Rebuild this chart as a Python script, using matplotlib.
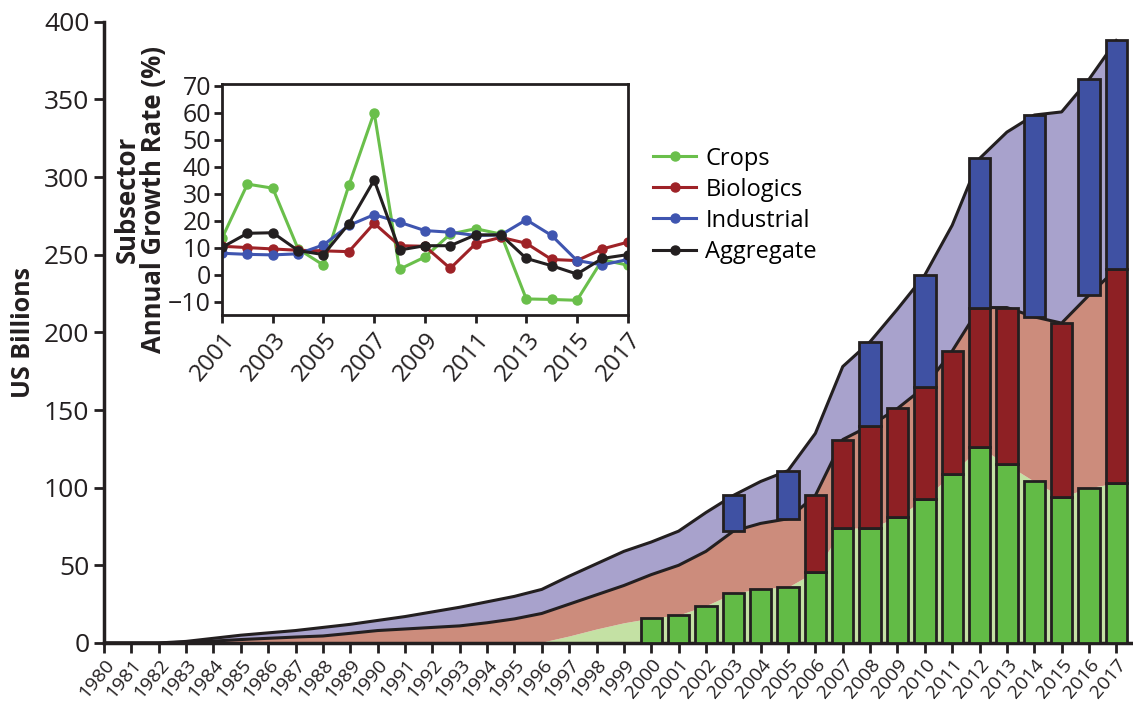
import matplotlib.pyplot as plt
import numpy as np

plt.rcParams['font.family'] = ['Open Sans', 'DejaVu Sans']

# main chart: subsector revenue, US billions
years = list(range(1980, 2018))
crops = [0, 0, 0, 0, 0, 0, 0, 0, 0, 0,
         0, 0, 0, 0, 0, 0, 0.5, 4.5, 9, 13,
         16, 18, 24, 32, 35, 36, 46, 74, 74, 81,
         93, 109, 126, 115, 104, 94, 100, 103]
biologics = [0, 0, 0, 0.5, 1.2, 2.2, 3, 3.8, 4.5, 6.2,
             8, 9, 10, 11, 13, 15.5, 18.5, 20.5, 22, 24,
             28, 32, 35, 40, 42, 44, 49, 57, 66, 70,
             72, 79, 90, 101, 106, 112, 124, 138]
industrial = [0, 0, 0, 0.5, 1.8, 2.8, 3.5, 4.2, 5.5, 5.8,
              6.5, 8, 10, 12, 13.5, 14.5, 15.5, 18, 20, 22,
              21, 22, 25, 23, 27, 31, 40, 47, 54, 64,
              72, 81, 96, 113, 130, 136, 139, 147]

# years that have a bar segment
crops_bar_years = list(range(2000, 2018))
bio_bar_years = [2006, 2007, 2008, 2009, 2010, 2011, 2012, 2013, 2015, 2017]
ind_bar_years = [2003, 2005, 2008, 2010, 2012, 2014, 2016, 2017]

# inset: annual growth rate (%)
g_years = list(range(2001, 2018))
g_crops = [13.5, 33.5, 32, 9.5, 3.5, 33, 60, 2, 6.5, 15, 17, 15, -9, -9.2, -9.5, 5.5, 3.5]
g_bio = [10.5, 10, 9.5, 9, 8.8, 8.5, 19, 10.7, 10.5, 2.3, 11.4, 13.8, 11.6, 5.6, 5.2, 9.5, 12]
g_ind = [7.9, 7.5, 7.3, 7.7, 11, 18.2, 22.2, 19.4, 16.3, 15.7, 14.5, 14.7, 20.3, 14.5, 5.2, 3.6, 5.6]
g_agg = [10.1, 15.3, 15.5, 8.9, 7.4, 18.8, 35, 9.1, 10.7, 10.7, 14.7, 14.7, 6, 3.3, 0.2, 6, 7.4]

dark = '#231f20'

fig = plt.figure(figsize=(11.33, 7.05), dpi=100)
ax = fig.add_axes([0.0918, 0.088, 0.908, 0.881])

y = np.array(years)
c = np.array(crops)
b = np.array(biologics)
i = np.array(industrial)

ax.fill_between(y, 0, c, color='#c4e1a4', lw=0)
ax.fill_between(y, c, c + b, color='#cc8c7c', lw=0)
ax.fill_between(y, c + b, c + b + i, color='#a8a2cc', lw=0)
ax.plot(y, c + b, color=dark, lw=2.2)
ax.plot(y, c + b + i, color=dark, lw=2.2)

w = 0.78
idx = [years.index(k) for k in crops_bar_years]
ax.bar(crops_bar_years, c[idx], width=w, color='#62bb46', edgecolor=dark, lw=2, zorder=3)
idx = [years.index(k) for k in bio_bar_years]
ax.bar(bio_bar_years, b[idx], bottom=c[idx], width=w, color='#8e2024', edgecolor=dark, lw=2, zorder=3)
idx = [years.index(k) for k in ind_bar_years]
ax.bar(ind_bar_years, i[idx], bottom=c[idx] + b[idx], width=w, color='#3f51a3', edgecolor=dark, lw=2, zorder=3)

ax.set_xlim(1980, 2017.6)
ax.set_ylim(0, 400)
ax.set_xticks(years)
ax.set_xticklabels([str(k) for k in years], rotation=50, ha='right', rotation_mode='anchor', fontsize=14)
ax.set_yticks(range(0, 401, 50))
ax.tick_params(axis='y', labelsize=19, length=7, width=2, colors=dark)
ax.tick_params(axis='x', length=7, width=2, colors=dark, pad=2)
for s in ['top', 'right']:
    ax.spines[s].set_visible(False)
for s in ['left', 'bottom']:
    ax.spines[s].set_linewidth(2.5)
    ax.spines[s].set_color(dark)
ax.set_ylabel('US Billions', fontsize=18, fontweight='bold', color=dark, labelpad=6)

# inset
ins = fig.add_axes([0.196, 0.553, 0.358, 0.328])
ins.plot(g_years, g_crops, color='#6abf4b', marker='o', ms=6.5, lw=2.2, label='Crops')
ins.plot(g_years, g_bio, color='#9e2227', marker='o', ms=6.5, lw=2.2, label='Biologics')
ins.plot(g_years, g_ind, color='#3f55b0', marker='o', ms=6.5, lw=2.2, label='Industrial')
ins.plot(g_years, g_agg, color=dark, marker='o', ms=6.5, lw=2.2, label='Aggregate')
ins.set_xlim(2001, 2017)
ins.set_ylim(-15, 70.6)
ins.set_xticks(range(2001, 2018, 2))
ins.set_xticklabels([str(k) for k in range(2001, 2018, 2)], rotation=50, ha='right', rotation_mode='anchor', fontsize=17.5)
ins.set_yticks(range(-10, 71, 10))
ins.set_yticklabels(['\u221210'] + [str(k) for k in range(0, 71, 10)])
ins.tick_params(axis='y', labelsize=18, length=6, width=2, colors=dark, pad=2)
ins.tick_params(axis='x', length=6, width=2, colors=dark, pad=3)
for s in ins.spines.values():
    s.set_linewidth(2)
    s.set_color(dark)
ins.set_ylabel('Subsector\nAnnual Growth Rate (%)', fontsize=18.5, fontweight='bold', color=dark,
               linespacing=0.95, labelpad=1)
ins.legend(loc='upper left', bbox_to_anchor=(1.04, 0.77), frameon=False, fontsize=17,
           handlelength=1.8, handletextpad=0.4, labelspacing=0.3, borderaxespad=0)

fig.savefig('out.png', dpi=100)
